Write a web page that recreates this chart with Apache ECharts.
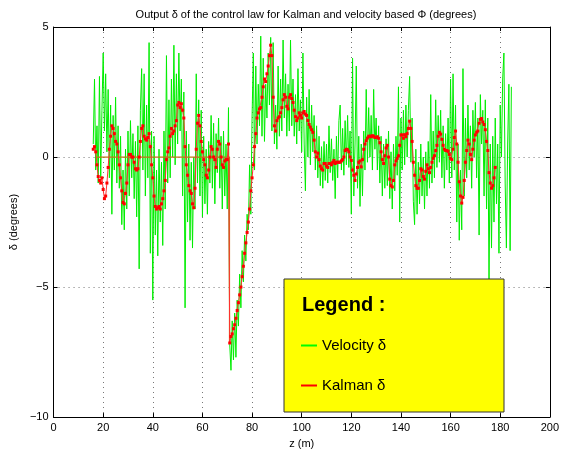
<!DOCTYPE html>
<html><head><meta charset="utf-8">
<script src="https://cdn.jsdelivr.net/npm/echarts@6/dist/echarts.min.js"></script>
<style>html,body{margin:0;padding:0;background:#fff}#c{width:562px;height:454px}</style>
</head><body><div id="c"></div>
<script>
// ---- data ----
const titleText = 'Output \u03b4 of the control law for Kalman and velocity based \u03a6 (degrees)';
const xTicks = [0, 20, 40, 60, 80, 100, 120, 140, 160, 180, 200];
const yTicks = [-10, -5, 0, 5];
const seriesNames = ['Velocity \u03b4', 'Kalman \u03b4'];

// Velocity delta: samples every 0.5 m starting at z = 16
const velStart = 16, velStep = 0.5;
const velocity = [
  0.5, 3.0, -0.5, 1.2, -1.0, 3.1, -0.8, 1.8, 4.0, 1.0, 3.2, 0.2, 2.6, -0.8, 2.0, -2.2, 1.6, -0.5, 2.3, -1.0,
  1.2, -1.2, 0.8, -2.6, -0.5, -2.8, 0.3, -2.0, 1.0, -1.5, 1.4, -0.8, 0.9, -1.6, 0.6, -2.3, 1.2, -4.3, 1.8, 3.4,
  -0.5, 3.2, -1.5, 2.0, -0.8, 4.4, -3.7, 1.0, -5.5, 0.8, -3.0, -0.5, -3.8, 0.3, -2.5, -0.2, -3.4, 1.0, -2.0, 3.9,
  -1.0, 2.2, -0.8, 3.0, 0.0, 4.3, -0.3, 3.2, 0.5, 4.0, 1.0, 3.0, -1.5, 2.5, -5.8, 1.0, -2.5, 0.5, -3.2, -0.2,
  -3.5, 0.0, -2.0, 3.2, -1.0, 2.2, -1.5, 1.8, -2.3, 0.8, -1.8, 0.3, -2.2, 0.6, -1.0, 1.6, -1.2, 1.3, -1.8, 0.9,
  -0.6, 1.5, -1.2, 0.8, -2.0, 1.0, -1.5, 0.5, -2.0, 1.9, -7.2, -8.2, -6.3, -7.8, -6.0, -7.7, -5.5, -6.5, -4.5, -5.8,
  -3.6, -4.8, -3.0, -4.0, -2.2, -2.8, -0.3, -2.2, 1.5, 4.0, -0.5, 3.5, 0.5, 2.8, 1.2, 4.65, 0.8, 3.8, 0.6, 2.8,
  1.5, 4.0, 2.0, 4.6, 1.0, 4.4, 0.5, 2.0, 0.3, 3.5, 0.8, 3.0, 1.0, 4.5, 1.5, 3.2, 0.8, 2.8, 1.0, 4.5,
  1.2, 3.0, 0.8, 2.4, 0.5, 3.4, 1.0, 2.2, 0.2, 4.0, 0.5, -1.3, 2.3, 0.0, 2.6, -0.3, 2.0, 0.2, 1.6, -0.5,
  1.2, -0.8, 0.8, -1.1, 0.4, -1.2, 0.6, -0.9, 0.5, -1.0, 1.2, -0.6, 0.7, -0.9, 0.3, -1.6, 0.8, -0.8, 1.4, 2.0,
  -0.5, 1.1, -0.7, 1.4, -0.3, 1.6, -0.4, 1.0, -2.2, 3.8, -1.5, 0.5, 3.5, -1.2, 0.8, -1.9, 0.5, -1.5, 1.0, -0.5,
  2.6, -0.2, 1.9, 0.0, 1.6, -0.5, 2.6, 0.3, 1.5, -0.5, 1.2, -1.0, 0.8, -1.5, 0.5, -1.2, 0.7, -1.1, 1.0, -1.6,
  0.2, -2.0, 0.5, -1.3, 0.8, -0.7, 2.7, -2.5, 1.5, -0.5, 1.8, -0.3, 2.0, 0.0, 1.8, 3.1, -0.2, 1.5, -1.7, -2.6,
  0.3, -2.2, -0.2, -1.8, 0.5, -1.5, 0.0, -2.0, 0.2, -1.5, 0.6, -1.2, 2.4, -1.0, 1.0, -0.8, 2.2, -0.4, 1.6, -0.2,
  1.8, -0.8, 1.2, -1.2, 0.9, -0.5, 1.5, -1.0, 3.0, -0.8, 3.2, -0.5, 2.0, -2.5, 0.5, -3.2, -0.5, -2.8, 3.4, -1.5,
  1.5, -0.8, 2.0, -0.5, 1.2, -1.2, 1.8, 0.0, 2.1, -0.8, 1.5, -3.0, 2.4, 0.5, 1.8, -1.5, 2.2, -2.0, 1.5, -4.8,
  0.5, -3.5, 0.8, -2.5, 1.5, -1.8, 0.5, -3.7, 2.0, 0.0, 3.0, 4.0, -1.0, -3.5, 0.5, 2.8, -3.6, 2.7
];

// Kalman delta: samples every 0.5 m starting at z = 16
const kalStart = 16, kalStep = 0.5;
const kalman = [
  0.3, 0.4, 0.2, -0.3, -0.75, -0.9, -1.0, -0.8, -1.25, -1.6, -1.5, -1.0, -0.4, 0.3, 0.8, 1.2, 1.1, 0.9, 0.6, 0.5,
  0.2, -0.3, -0.8, -1.3, -1.75, -1.8, -1.4, -1.0, -0.3, 0.1, 0.1, 0.0, 0.0, -0.2, -0.45, -0.5, -0.45, 0.0, 0.6, 1.1,
  1.2, 0.8, 0.7, 0.65, 0.75, 0.9, 0.4, -0.3, -0.8, -1.5, -1.9, -2.0, -1.95, -1.9, -2.0, -1.8, -1.6, -1.3, -0.9, -0.1,
  0.2, 0.35, 0.8, 1.1, 0.9, 1.0, 1.2, 1.4, 2.0, 2.1, 1.9, 2.05, 1.8, 1.5, 0.4, -0.3, -0.7, -1.1, -1.3, -1.4,
  -1.8, -1.95, -1.2, 0.3, 1.3, 1.6, 1.2, 0.6, 0.2, -0.1, -0.3, -0.7, -0.8, -0.5, 0.0, 0.4, 0.3, 0.0, -0.1, -0.4,
  0.3, 0.6, 0.5, 0.0, -0.3, -0.4, -0.15, -0.1, -0.1, 0.5, -7.15, -6.9, -6.8, -6.6, -6.45, -6.2, -5.9, -5.6, -5.3, -5.0,
  -4.6, -4.2, -3.7, -3.3, -2.9, -2.5, -2.0, -1.3, -0.8, -0.3, 0.4, 0.9, 1.5, 1.7, 1.85, 1.9, 2.3, 2.7, 3.0, 2.9,
  3.2, 3.5, 3.9, 4.3, 3.9, 2.3, 1.2, 1.0, 1.4, 1.5, 1.55, 1.7, 1.9, 2.2, 2.4, 2.3, 1.95, 1.85, 2.3, 2.4,
  2.25, 2.1, 1.8, 1.55, 1.4, 1.5, 1.7, 1.6, 1.5, 1.7, 1.75, 1.65, 1.6, 1.4, 1.25, 1.15, 1.05, 0.95, 0.65, 0.2,
  0.0, 0.15, -0.1, -0.35, -0.45, -0.5, -0.25, -0.25, -0.35, -0.4, -0.25, -0.25, -0.3, -0.2, -0.13, -0.25, -0.2, -0.2, -0.2, -0.2,
  -0.15, -0.1, 0.0, 0.25, 0.3, 0.28, 0.2, 0.0, -0.13, -0.5, -0.7, -0.9, -0.65, -0.4, -0.2, -0.15, -0.38, -0.1, 0.3, 0.5,
  0.63, 0.73, 0.8, 0.8, 0.78, 0.82, 0.8, 0.75, 0.75, 0.78, 0.72, 0.55, 0.2, -0.1, -0.25, 0.05, 0.35, 0.45, 0.0, -0.85,
  -1.1, -1.15, -0.9, -0.3, -0.15, -0.05, 0.05, 0.45, 0.85, 0.85, 0.72, 0.86, 0.78, 0.9, 1.1, 1.38, 1.1, 0.6, -0.2, -0.7,
  -1.1, -1.2, -1.2, -0.9, -0.45, -0.5, -0.75, -0.85, -0.55, -0.3, -0.45, -0.6, -0.4, -0.2, -0.05, 0.05, 0.25, 0.45, 0.8, 0.95,
  0.88, 0.68, 0.45, 0.3, 0.25, 0.25, 0.22, 0.1, -0.05, -0.1, 0.3, 0.75, 1.0, 0.5, -0.2, -0.95, -1.5, -1.77, -1.55, -0.9,
  -0.2, 0.25, 0.65, 0.5, 0.1, -0.1, 0.3, 0.65, 0.85, 0.95, 1.0, 1.3, 1.45, 1.48, 1.35, 1.25, 1.05, 0.6, 0.25, -0.6,
  -1.0, -1.2, -1.1, -0.8, -0.4
];

// Zero-hold segment (brown) before the jump
const holdZ = [17.4, 70.9, 70.9];
const holdV = [0, 0, -7.1];

// ---- build ----
const velData = velocity.map((v, i) => [velStart + i * velStep, v]);
const kalData = kalman.map((v, i) => [kalStart + i * kalStep, v]);
const holdData = holdZ.map((z, i) => [z, holdV[i]]);
const minus = v => String(v).replace('-', '\u2212');
const FONT = 'Liberation Sans, Arial, sans-serif';
const grid = {left: 49, right: 8, top: 27, bottom: 29};
const gridLine = {show: true, lineStyle: {color: '#777', type: [1, 4], width: 1}};

const chart = echarts.init(document.getElementById('c'), null, {renderer: 'canvas'});
chart.setOption({
  animation: false,
  backgroundColor: '#fff',
  title: {text: titleText, left: 301, textAlign: 'center', top: 4,
    textStyle: {fontFamily: FONT, fontSize: 11, fontWeight: 'normal', color: '#000'}},
  grid: grid,
  xAxis: [{
    type: 'value', min: xTicks[0], max: xTicks[xTicks.length - 1], interval: 20,
    name: 'z (m)', nameLocation: 'middle', nameGap: 19,
    nameTextStyle: {fontFamily: FONT, fontSize: 11, color: '#000'},
    axisLine: {show: true, onZero: false, lineStyle: {color: '#000', width: 1}},
    axisTick: {show: true, inside: true, length: 4, lineStyle: {color: '#000'}},
    axisLabel: {fontFamily: FONT, fontSize: 11, color: '#000', margin: 5, formatter: minus},
    splitLine: gridLine
  }, {
    type: 'value', position: 'top', min: 0, max: 200, interval: 20,
    axisLine: {show: true, onZero: false, lineStyle: {color: '#000'}},
    axisTick: {show: true, inside: true, length: 4, lineStyle: {color: '#000'}},
    axisLabel: {show: false}, splitLine: {show: false}
  }],
  yAxis: [{
    type: 'value', min: -10, max: 5, interval: 5,
    name: '\u03b4 (degrees)', nameLocation: 'middle', nameGap: 28, nameRotate: 90,
    nameTextStyle: {fontFamily: FONT, fontSize: 11, color: '#000'},
    axisLine: {show: true, onZero: false, lineStyle: {color: '#000', width: 1}},
    axisTick: {show: true, inside: true, length: 4, lineStyle: {color: '#000'}},
    axisLabel: {fontFamily: FONT, fontSize: 11, color: '#000', margin: 5, formatter: minus},
    splitLine: gridLine
  }, {
    type: 'value', position: 'right', min: -10, max: 5, interval: 5,
    axisLine: {show: true, onZero: false, lineStyle: {color: '#000'}},
    axisTick: {show: true, inside: true, length: 4, lineStyle: {color: '#000'}},
    axisLabel: {show: false}, splitLine: {show: false}
  }],
  legend: {
    orient: 'vertical', left: 296, top: 333, itemGap: 25, itemWidth: 16, itemHeight: 2,
    z: 20, textStyle: {fontFamily: FONT, fontSize: 15, color: '#000'},
    data: [
      {name: seriesNames[0], icon: 'rect', itemStyle: {color: '#00ff00'}},
      {name: seriesNames[1], icon: 'rect', itemStyle: {color: '#ff0000'}}
    ]
  },
  graphic: [
    {type: 'rect', z: 10, shape: {x: 284, y: 279, width: 220, height: 133},
      style: {fill: '#ffff00', stroke: '#333', lineWidth: 1}},
    {type: 'text', z: 11, left: 302, top: 295,
      style: {text: 'Legend :', fontFamily: FONT, fontSize: 20, fontWeight: 'bold', fill: '#000'}}
  ],
  series: [
    {name: seriesNames[0], type: 'line', data: velData, showSymbol: false,
      lineStyle: {color: '#00ee00', width: 1}, itemStyle: {color: '#00ff00'}, z: 2},
    {name: 'hold', type: 'line', data: holdData, showSymbol: false,
      lineStyle: {color: '#c07818', width: 1.2}, z: 3},
    {name: seriesNames[1], type: 'line', data: kalData, showSymbol: true, showAllSymbol: true,
      symbol: 'rect', symbolSize: 3, lineStyle: {color: '#ff3030', width: 1},
      itemStyle: {color: '#ff0000'}, z: 4}
  ]
});
</script>
</body></html>
